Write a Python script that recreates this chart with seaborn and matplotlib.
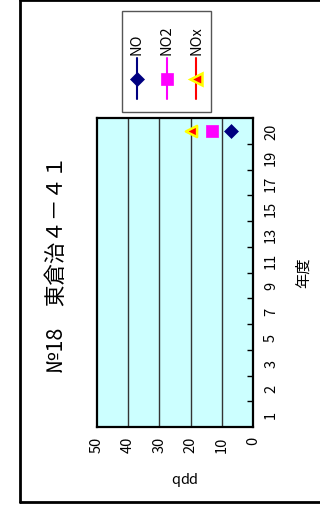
import numpy as np
import pandas as pd
import matplotlib
matplotlib.use("Agg")
import matplotlib.pyplot as plt
import seaborn as sns
from matplotlib.lines import Line2D
from matplotlib.patches import Rectangle

sns.set_theme(style="white")
plt.rcParams['font.family'] = ['Noto Sans CJK JP', 'DejaVu Sans']
plt.rcParams['text.color'] = 'black'
plt.rcParams['xtick.color'] = 'black'
plt.rcParams['ytick.color'] = 'black'

# data
years = ['1', '2', '3', '5', '7', '9', '11', '13', '15', '17', '19', '20']
no_vals = [np.nan] * 11 + [7]
no2_vals = [np.nan] * 11 + [13]
nox_vals = [np.nan] * 11 + [20]
series_names = ['NO', 'NO2', 'NOx']
value_ticks = [0, 10, 20, 30, 40, 50]

df = pd.DataFrame({'year': years, 'pos': range(len(years)),
                   'NO': no_vals, 'NO2': no2_vals, 'NOx': nox_vals})

W, H = 320, 510
fig = plt.figure(figsize=(W / 100, H / 100), dpi=100)

def fx(px):
  return px / W

def fy(py):
  return 1 - py / H

# axes area (chart is drawn turned a quarter turn)
ax = fig.add_axes([fx(97), fy(428), fx(253) - fx(97), fy(119) - fy(428)])
ax.set_facecolor('#CCFFFF')

styles = {
  'NO': dict(marker='D', color='#000080', edgecolor='#000080', s=50, linewidth=0.5),
  'NO2': dict(marker='s', color='#FF00FF', edgecolor='#FF00FF', s=75, linewidth=0.5),
  'NOx': dict(marker='<', color='#FF0000', edgecolor='#FFFF00', s=65, linewidth=1.8),
}
for name in series_names:
  sub = df.dropna(subset=[name])
  sns.scatterplot(data=sub, x=name, y='pos', ax=ax, legend=False, zorder=5, **styles[name])

ax.set_xlim(50, 0)
ax.set_ylim(-0.5, len(years) - 0.5)
ax.set_xticks(value_ticks)
ax.set_xticklabels([str(v) for v in value_ticks], rotation=90, fontsize=10.5)
for v in value_ticks[1:-1]:
  ax.axvline(v, color='#333333', lw=1.0, zorder=1)

ax.yaxis.tick_right()
ax.set_yticks(range(len(years)))
ax.set_yticklabels(years, rotation=90, va='center', fontsize=10.5)
ax.set_yticks(np.arange(0.5, len(years) - 1, 1), minor=True)
ax.tick_params(axis='y', which='major', length=0, pad=8)
ax.tick_params(axis='y', which='minor', direction='in', length=4, width=1, color='black')
ax.tick_params(axis='x', length=0, pad=6)
ax.set_xlabel('')
ax.set_ylabel('')
for sp in ax.spines.values():
  sp.set_color('black')
  sp.set_linewidth(1.6)

# axis titles
fig.text(fx(182), fy(478), 'ppb', rotation=180, ha='center', va='center', fontsize=10.5)
fig.text(fx(303), fy(273), '年度', rotation=90, ha='center', va='center', fontsize=11)
fig.text(fx(57), fy(264), '№18　東倉治４－４１', rotation=90, ha='center', va='center', fontsize=15.5)

# legend (drawn turned like the chart)
fig.add_artist(Rectangle((fx(122), fy(113)), fx(211) - fx(122), fy(12) - fy(113),
                         transform=fig.transFigure, fill=False, edgecolor='#555555', lw=1))
leg_x = [137, 166.5, 196]
leg_col = ['#000080', '#FF00FF', '#FF0000']
for x, name, c in zip(leg_x, series_names, leg_col):
  st = styles[name]
  fig.add_artist(Line2D([fx(x), fx(x)], [fy(59), fy(100)], transform=fig.transFigure, color=c, lw=1.5))
  fig.add_artist(Line2D([fx(x)], [fy(80)], transform=fig.transFigure, marker=st['marker'],
                        markersize=np.sqrt(st['s']), markerfacecolor=st['color'],
                        markeredgecolor=st['edgecolor'], markeredgewidth=st['linewidth'], lw=0))
  fig.text(fx(x), fy(55), name, rotation=90, ha='center', va='bottom', fontsize=10.5)

# outer frame
frame_kw = dict(transform=fig.transFigure, color='black', lw=2)
fig.add_artist(Line2D([fx(20), fx(20)], [fy(1), fy(503)], **frame_kw))
fig.add_artist(Line2D([fx(20), fx(320)], [fy(1), fy(1)], **frame_kw))
fig.add_artist(Line2D([fx(20), fx(320)], [fy(503), fy(503)], **frame_kw))

fig.savefig('out.png', dpi=100)
